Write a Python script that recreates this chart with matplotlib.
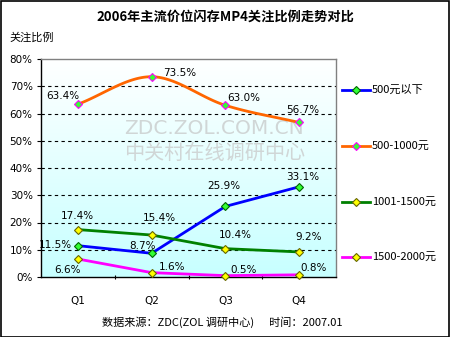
import numpy as np
import matplotlib
matplotlib.use("Agg")
import matplotlib.pyplot as plt
from matplotlib.patches import Rectangle

plt.rcParams['font.family'] = ['Noto Sans CJK SC', 'DejaVu Sans']

title = "2006年主流价位闪存MP4关注比例走势对比"
ylabel_text = "关注比例"
footer = "数据来源：ZDC(ZOL 调研中心)      时间：2007.01"
categories = ["Q1", "Q2", "Q3", "Q4"]
series_names = ["500元以下", "500-1000元", "1001-1500元", "1500-2000元"]
s_below500 = [11.5, 8.7, 25.9, 33.1]
s_500_1000 = [63.4, 73.5, 63.0, 56.7]
s_1001_1500 = [17.4, 15.4, 10.4, 9.2]
s_1500_2000 = [6.6, 1.6, 0.5, 0.8]
yticks = [0, 10, 20, 30, 40, 50, 60, 70, 80]

W, H = 450, 337
fig = plt.figure(figsize=(W / 100, H / 100), dpi=100)
fig.patch.set_facecolor('white')
fig.add_artist(Rectangle((0.5 / W, 0.5 / H), 1 - 1.5 / W, 1 - 1.5 / H, transform=fig.transFigure,
                         fill=False, edgecolor='black', linewidth=1.2))

L, R, T, B = 41, 336, 59, 277
ax = fig.add_axes([L / W, 1 - B / H, (R - L) / W, (B - T) / H])

x = np.arange(len(categories)) + 0.5

# gradient background: white at top, light cyan at bottom
grad = np.linspace(0, 1, 256).reshape(-1, 1)
top = np.array([1.0, 1.0, 1.0])
bot = np.array([0.78, 1.0, 1.0])
img = top[None, None, :] * (1 - grad[:, :, None]) + bot[None, None, :] * grad[:, :, None]
ax.imshow(img, extent=[0, 4, 0, 80], aspect='auto', zorder=0, origin='upper')
ax.set_xlim(0, 4)
ax.set_ylim(0, 80)

for yv in yticks[1:-1]:
    ax.axhline(yv, color='black', linestyle=(0, (3, 3)), linewidth=0.8, zorder=1)

# watermark
ax.text(2.35, 54.5, "ZDC.ZOL.COM.CN", ha='center', va='center', fontsize=14.5, color='#d0d6d6', zorder=1,
        family=['DejaVu Sans'])
ax.text(2.35, 45.5, "中关村在线调研中心", ha='center', va='center', fontsize=14.5, color='#d0d6d6', zorder=1)


def smooth(xs, ys, n=30):
    xs = np.asarray(xs, float); ys = np.asarray(ys, float)
    px = np.concatenate([[2 * xs[0] - xs[1]], xs, [2 * xs[-1] - xs[-2]]])
    py = np.concatenate([[2 * ys[0] - ys[1]], ys, [2 * ys[-1] - ys[-2]]])
    ox, oy = [], []
    for i in range(1, len(px) - 2):
        t = np.linspace(0, 1, n)
        for arr, out in ((px, ox), (py, oy)):
            p0, p1, p2, p3 = arr[i - 1], arr[i], arr[i + 1], arr[i + 2]
            out.extend(0.5 * ((2 * p1) + (-p0 + p2) * t + (2 * p0 - 5 * p1 + 4 * p2 - p3) * t ** 2
                              + (-p0 + 3 * p1 - 3 * p2 + p3) * t ** 3))
    return np.array(ox), np.array(oy)


styles = [
    (s_below500, '#0000ff', '#33ff33', '#006600', False),
    (s_500_1000, '#ff6600', '#33ff33', '#ff00ff', True),
    (s_1001_1500, '#008000', '#ffff00', '#666600', False),
    (s_1500_2000, '#ff00ff', '#ffff00', '#666600', False),
]
handles = []
for (vals, lc, mfc, mec, sm), name in zip(styles, series_names):
    if sm:
        sx, sy = smooth(x, vals)
        ax.plot(sx, sy, color=lc, linewidth=2, zorder=3)
    else:
        ax.plot(x, vals, color=lc, linewidth=2, zorder=3)
    ax.plot(x, vals, linestyle='none', marker='D', markersize=4.5, markerfacecolor=mfc,
            markeredgecolor=mec, markeredgewidth=0.8, zorder=4, clip_on=False)
    h, = ax.plot([], [], color=lc, linewidth=2, marker='D', markersize=4.5, markerfacecolor=mfc,
                 markeredgecolor=mec, markeredgewidth=0.8, label=name)
    handles.append(h)

# label offsets in pixels (dx, dy) relative to marker
offsets = {
    0: [(-23, 1), (-9, 7), (-2, 20), (4, 10)],
    1: [(-15, 8), (28, 4), (18, 7), (4, 12)],
    2: [(0, 14), (8, 17), (10, 14), (9, 15)],
    3: [(-10, -11), (20, 6), (18, 6), (14, 7)],
}
for si, (vals, *_rest) in enumerate(styles):
    for i, v in enumerate(vals):
        dx, dy = offsets[si][i]
        ax.annotate(f"{v:.1f}%", (x[i], v), xytext=(dx, dy), textcoords='offset pixels',
                    ha='center', va='center', fontsize=7.5, zorder=5, family=['DejaVu Sans'])

ax.set_yticks(yticks)
ax.set_yticklabels([f"{v}%" for v in yticks], family=['DejaVu Sans'])
ax.set_xticks([1, 2, 3])
ax.set_xticklabels([])
ax.set_xticks(x, minor=True)
ax.set_xticklabels(categories, minor=True, family=['DejaVu Sans'])
ax.tick_params(axis='x', which='minor', length=0, pad=14, labelsize=7.5)
ax.tick_params(axis='x', which='major', length=3, direction='inout', width=0.8)
ax.tick_params(axis='y', length=3, width=0.8, labelsize=7.5, pad=3)

for s in ('top', 'right'):
    ax.spines[s].set_color('#808080')
for s in ('left', 'bottom'):
    ax.spines[s].set_color('black')
for s in ax.spines.values():
    s.set_linewidth(1)

fig.text(225 / W, 1 - 17 / H, title, ha='center', va='center', fontsize=9.5, fontweight='bold')
fig.text(9 / W, 1 - 38 / H, ylabel_text, ha='left', va='center', fontsize=8)
fig.text(222 / W, 1 - 322 / H, footer, ha='center', va='center', fontsize=8)

leg_y = [90, 146, 202, 257]
for h, name, yy in zip(handles, series_names, leg_y):
    yf = 1 - yy / H
    fig.lines.append(plt.Line2D([342 / W, 370 / W], [yf, yf], transform=fig.transFigure,
                                color=h.get_color(), linewidth=2))
    fig.lines.append(plt.Line2D([356 / W], [yf], transform=fig.transFigure, marker='D',
                                markersize=4.5, markerfacecolor=h.get_markerfacecolor(),
                                markeredgecolor=h.get_markeredgecolor(), markeredgewidth=0.8,
                                linestyle='none'))
    fig.text(372 / W, yf, name, ha='left', va='center', fontsize=8)

fig.savefig("out.png", dpi=100)
